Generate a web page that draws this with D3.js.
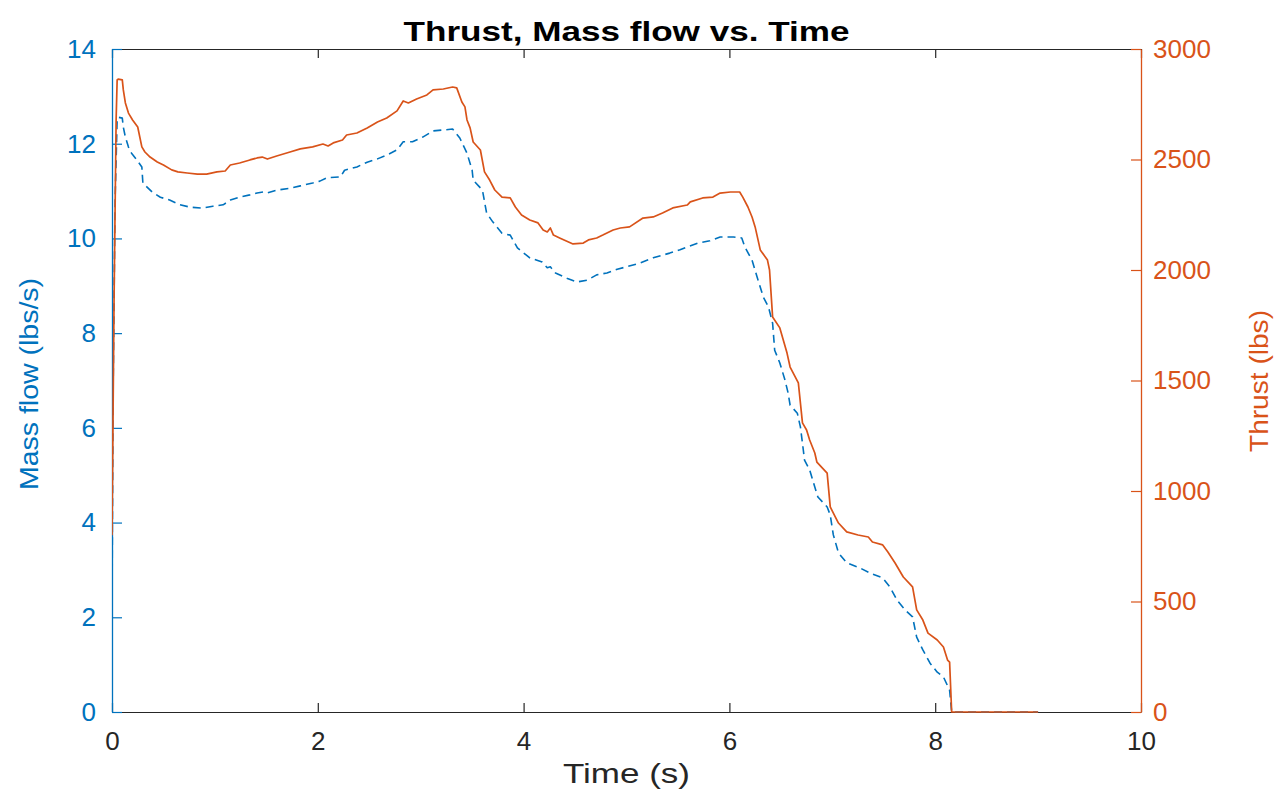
<!DOCTYPE html>
<html>
<head>
<meta charset="utf-8">
<script src="https://cdn.jsdelivr.net/npm/d3@7"></script>
<style>
  html, body { margin: 0; padding: 0; background: #fff; }
  svg { display: block; font-family: "Liberation Sans", Arial, Helvetica, sans-serif; }
</style>
</head>
<body>
<svg id="chart" width="1280" height="790"></svg>
<script>
// ---- Data ----
const thrustTime = [0, 0.02, 0.04, 0.05, 0.06, 0.10, 0.11, 0.13, 0.16, 0.20, 0.25, 0.29, 0.32, 0.37, 0.44, 0.50, 0.58, 0.64, 0.73, 0.83, 0.92, 1.02, 1.10, 1.15, 1.24, 1.34, 1.41, 1.46, 1.51, 1.60, 1.73, 1.83, 1.95, 2.05, 2.10, 2.15, 2.24, 2.28, 2.38, 2.48, 2.58, 2.67, 2.77, 2.83, 2.88, 2.96, 3.06, 3.12, 3.22, 3.31, 3.35, 3.40, 3.43, 3.45, 3.48, 3.51, 3.58, 3.62, 3.67, 3.72, 3.79, 3.87, 3.92, 3.98, 4.06, 4.14, 4.19, 4.23, 4.26, 4.29, 4.35, 4.48, 4.58, 4.63, 4.71, 4.77, 4.87, 4.94, 5.03, 5.16, 5.26, 5.35, 5.45, 5.59, 5.62, 5.74, 5.84, 5.91, 6.01, 6.10, 6.13, 6.18, 6.22, 6.25, 6.30, 6.37, 6.39, 6.42, 6.49, 6.56, 6.59, 6.67, 6.71, 6.75, 6.78, 6.83, 6.85, 6.95, 6.98, 7.03, 7.06, 7.14, 7.25, 7.35, 7.39, 7.49, 7.54, 7.61, 7.69, 7.78, 7.82, 7.88, 7.93, 8.02, 8.08, 8.12, 8.14, 8.16, 9.0];
const thrustLbs = [800, 1864, 2679, 2860, 2864, 2860, 2815, 2756, 2710, 2679, 2647, 2557, 2534, 2511, 2489, 2475, 2453, 2444, 2439, 2434, 2434, 2444, 2448, 2475, 2484, 2498, 2507, 2511, 2502, 2516, 2534, 2548, 2557, 2570, 2561, 2575, 2588, 2611, 2620, 2643, 2670, 2688, 2720, 2765, 2756, 2774, 2792, 2815, 2819, 2828, 2824, 2760, 2738, 2679, 2643, 2579, 2543, 2444, 2407, 2362, 2330, 2326, 2285, 2249, 2226, 2213, 2181, 2172, 2190, 2158, 2145, 2118, 2122, 2136, 2145, 2158, 2181, 2190, 2195, 2235, 2240, 2258, 2281, 2294, 2308, 2326, 2330, 2348, 2353, 2353, 2330, 2285, 2240, 2195, 2091, 2045, 2000, 1787, 1738, 1624, 1561, 1489, 1308, 1276, 1231, 1172, 1131, 1081, 928, 882, 855, 815, 801, 792, 769, 756, 724, 674, 611, 566, 462, 416, 357, 326, 294, 235, 226, 0, 0];

const massTime = [0, 0.01, 0.03, 0.05, 0.06, 0.10, 0.11, 0.13, 0.16, 0.19, 0.24, 0.29, 0.30, 0.39, 0.47, 0.56, 0.66, 0.76, 0.88, 0.98, 1.08, 1.15, 1.24, 1.34, 1.41, 1.47, 1.51, 1.60, 1.73, 1.83, 1.95, 2.02, 2.09, 2.22, 2.26, 2.38, 2.48, 2.58, 2.67, 2.77, 2.83, 2.92, 3.02, 3.12, 3.22, 3.31, 3.38, 3.45, 3.50, 3.51, 3.60, 3.64, 3.70, 3.79, 3.87, 3.94, 4.06, 4.18, 4.23, 4.26, 4.31, 4.42, 4.52, 4.62, 4.71, 4.81, 4.91, 5.00, 5.13, 5.26, 5.42, 5.52, 5.59, 5.69, 5.81, 5.91, 6.04, 6.12, 6.15, 6.22, 6.27, 6.33, 6.38, 6.42, 6.44, 6.49, 6.54, 6.57, 6.59, 6.66, 6.69, 6.71, 6.73, 6.78, 6.83, 6.86, 6.95, 6.98, 7.01, 7.06, 7.14, 7.27, 7.37, 7.49, 7.56, 7.63, 7.71, 7.78, 7.82, 7.88, 7.95, 8.02, 8.08, 8.14, 8.16, 9.0];
const massFlow = [2.15, 6.59, 10.81, 12.50, 12.56, 12.54, 12.35, 12.14, 11.93, 11.80, 11.66, 11.51, 11.17, 10.98, 10.87, 10.81, 10.71, 10.66, 10.64, 10.68, 10.71, 10.81, 10.87, 10.92, 10.96, 10.98, 10.96, 11.02, 11.06, 11.11, 11.17, 11.21, 11.28, 11.30, 11.44, 11.51, 11.61, 11.68, 11.76, 11.87, 12.04, 12.04, 12.14, 12.27, 12.29, 12.31, 12.12, 11.80, 11.44, 11.23, 11.02, 10.54, 10.35, 10.11, 10.07, 9.80, 9.59, 9.50, 9.38, 9.40, 9.27, 9.16, 9.08, 9.12, 9.23, 9.27, 9.35, 9.40, 9.48, 9.59, 9.69, 9.76, 9.82, 9.90, 9.95, 10.03, 10.03, 10.01, 9.82, 9.54, 9.18, 8.76, 8.55, 8.21, 7.64, 7.37, 7.01, 6.74, 6.48, 6.31, 6.02, 5.68, 5.32, 5.11, 4.75, 4.54, 4.33, 4.16, 3.74, 3.36, 3.15, 3.04, 2.93, 2.83, 2.64, 2.36, 2.15, 2.01, 1.58, 1.31, 1.03, 0.84, 0.74, 0.46, 0, 0];

const xTicks = [0, 2, 4, 6, 8, 10];
const leftTicks = [0, 2, 4, 6, 8, 10, 12, 14];
const rightTicks = [0, 500, 1000, 1500, 2000, 2500, 3000];

const titleText = "Thrust, Mass flow vs. Time";
const xLabel = "Time (s)";
const leftLabel = "Mass flow (lbs/s)";
const rightLabel = "Thrust (lbs)";

// ---- Layout ----
const BLUE = "#0072BD", ORANGE = "#D95319", DARK = "#262626";
const L = 112, R = 1141, T = 49, B = 712;

const svg = d3.select("#chart");
const x = d3.scaleLinear().domain([0, 10]).range([L, R]);
const yL = d3.scaleLinear().domain([0, 14]).range([B, T]);
const yR = d3.scaleLinear().domain([0, 3000]).range([B, T]);

const fontSize = 26;
const fam = "Liberation Sans, Arial, sans-serif";

// bottom axis (ticks inward)
const xAxis = d3.axisBottom(x).tickValues(xTicks).tickSizeInner(-9).tickSizeOuter(0).tickPadding(20);
const gx = svg.append("g").attr("transform", `translate(0,${B})`).call(xAxis);
gx.select(".domain").attr("stroke", DARK).attr("stroke-width", 1.2);
gx.selectAll(".tick line").attr("stroke", DARK).attr("stroke-width", 1.2);
gx.selectAll(".tick text").attr("fill", DARK).attr("font-size", fontSize).attr("font-family", fam);

// top axis (box, ticks inward)
const xTop = d3.axisTop(x).tickValues(xTicks).tickSizeInner(-9).tickSizeOuter(0).tickFormat("");
const gt = svg.append("g").attr("transform", `translate(0,${T})`).call(xTop);
gt.select(".domain").attr("stroke", DARK).attr("stroke-width", 1.2);
gt.selectAll(".tick line").attr("stroke", DARK).attr("stroke-width", 1.2);

// left axis
const yAxisL = d3.axisLeft(yL).tickValues(leftTicks).tickSizeInner(-10).tickSizeOuter(0).tickPadding(16);
const gl = svg.append("g").attr("transform", `translate(${L},0)`).call(yAxisL);
gl.select(".domain").attr("stroke", BLUE).attr("stroke-width", 1.3);
gl.selectAll(".tick line").attr("stroke", BLUE).attr("stroke-width", 1.2);
gl.selectAll(".tick text").attr("fill", BLUE).attr("font-size", fontSize).attr("font-family", fam);

// right axis
const yAxisR = d3.axisRight(yR).tickValues(rightTicks).tickFormat(d3.format("d"))
  .tickSizeInner(-10).tickSizeOuter(0).tickPadding(12);
const gr = svg.append("g").attr("transform", `translate(${R},0)`).call(yAxisR);
gr.select(".domain").attr("stroke", ORANGE).attr("stroke-width", 1.3);
gr.selectAll(".tick line").attr("stroke", ORANGE).attr("stroke-width", 1.2);
gr.selectAll(".tick text").attr("fill", ORANGE).attr("font-size", fontSize).attr("font-family", fam);

// data lines (drawn above the axes, clipped to plot area)
svg.append("clipPath").attr("id", "clip").append("rect")
  .attr("x", L).attr("y", T - 2).attr("width", R - L).attr("height", B - T + 4);

const gLines = svg.append("g").attr("clip-path", "url(#clip)");
const massLine = d3.line().x((d, i) => x(massTime[i])).y(d => yL(d));
const thrustLine = d3.line().x((d, i) => x(thrustTime[i])).y(d => yR(d));

gLines.append("path").datum(massFlow)
  .attr("d", massLine).attr("fill", "none")
  .attr("stroke", BLUE).attr("stroke-width", 1.6)
  .attr("stroke-dasharray", "8,5").attr("stroke-linejoin", "round");

gLines.append("path").datum(thrustLbs)
  .attr("d", thrustLine).attr("fill", "none")
  .attr("stroke", ORANGE).attr("stroke-width", 1.7)
  .attr("stroke-linejoin", "round");

// title
svg.append("text").attr("x", (L + R) / 2).attr("y", 41)
  .attr("text-anchor", "middle").attr("font-weight", "bold")
  .attr("font-size", 28).attr("fill", "#000")
  .attr("textLength", 446).attr("lengthAdjust", "spacingAndGlyphs")
  .text(titleText);

// x label
svg.append("text").attr("x", (L + R) / 2).attr("y", 783)
  .attr("text-anchor", "middle").attr("font-size", 28).attr("fill", DARK)
  .attr("textLength", 127).attr("lengthAdjust", "spacingAndGlyphs")
  .text(xLabel);

// left label
svg.append("text").attr("transform", `translate(38,384) rotate(-90)`)
  .attr("text-anchor", "middle").attr("font-size", 26).attr("fill", BLUE)
  .attr("textLength", 212).attr("lengthAdjust", "spacingAndGlyphs")
  .text(leftLabel);

// right label
svg.append("text").attr("transform", `translate(1268,381) rotate(-90)`)
  .attr("text-anchor", "middle").attr("font-size", 26).attr("fill", ORANGE)
  .attr("textLength", 142).attr("lengthAdjust", "spacingAndGlyphs")
  .text(rightLabel);
</script>
</body>
</html>
